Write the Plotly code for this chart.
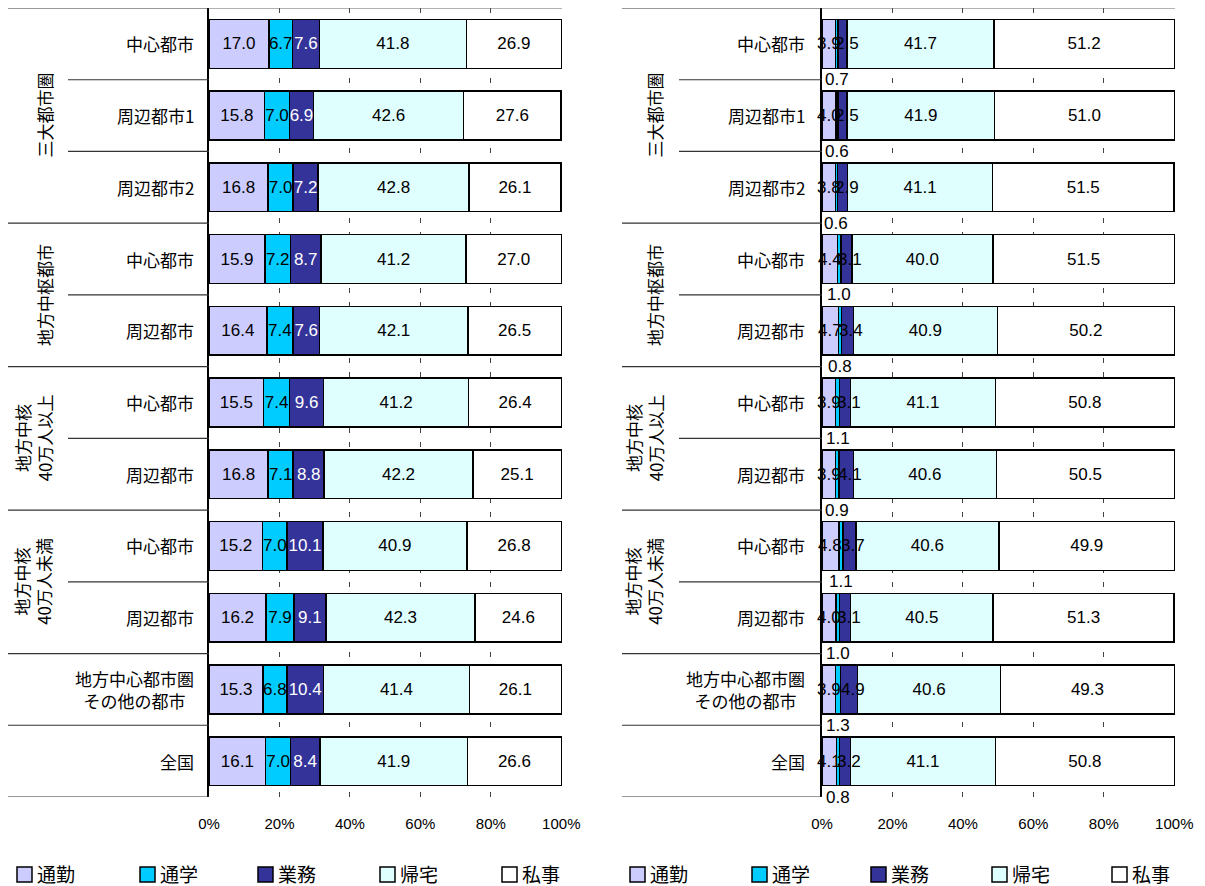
import plotly.graph_objects as go

W, H = 1205, 886

# Category labels (top to bottom)
groups = ["三大都市圏", "地方中枢都市", "地方中核<br>40万人以上", "地方中核<br>40万人未満"]
categories = ["中心都市", "周辺都市1", "周辺都市2", "中心都市", "周辺都市",
              "中心都市", "周辺都市", "中心都市", "周辺都市",
              "地方中心都市圏<br>その他の都市", "全国"]
purposes = ["通勤", "通学", "業務", "帰宅", "私事"]
x_ticks = [0, 20, 40, 60, 80, 100]
x_ticklabels = ["0%", "20%", "40%", "60%", "80%", "100%"]

# Left chart: shares by purpose (%)
a_commute = [17.0, 15.8, 16.8, 15.9, 16.4, 15.5, 16.8, 15.2, 16.2, 15.3, 16.1]
a_school = [6.7, 7.0, 7.0, 7.2, 7.4, 7.4, 7.1, 7.0, 7.9, 6.8, 7.0]
a_business = [7.6, 6.9, 7.2, 8.7, 7.6, 9.6, 8.8, 10.1, 9.1, 10.4, 8.4]
a_home = [41.8, 42.6, 42.8, 41.2, 42.1, 41.2, 42.2, 40.9, 42.3, 41.4, 41.9]
a_private = [26.9, 27.6, 26.1, 27.0, 26.5, 26.4, 25.1, 26.8, 24.6, 26.1, 26.6]

# Right chart: shares by purpose (%)
b_commute = [3.9, 4.0, 3.8, 4.4, 4.7, 3.9, 3.9, 4.8, 4.0, 3.9, 4.1]
b_school = [0.7, 0.6, 0.6, 1.0, 0.8, 1.1, 0.9, 1.1, 1.0, 1.3, 0.8]
b_business = [2.5, 2.5, 2.9, 3.1, 3.4, 3.1, 4.1, 3.7, 3.1, 4.9, 3.2]
b_home = [41.7, 41.9, 41.1, 40.0, 40.9, 41.1, 40.6, 40.6, 40.5, 40.6, 41.1]
b_private = [51.2, 51.0, 51.5, 51.5, 50.2, 50.8, 50.5, 49.9, 51.3, 49.3, 50.8]

colors = ["#CCCCFF", "#00CCFF", "#333399", "#DFFFFF", "#FFFFFF"]
FONT = "Liberation Sans, Noto Sans CJK JP, sans-serif"
JP = "Noto Sans CJK JP, sans-serif"

rows = list(range(len(categories)))

# pixel helpers for layout placement
def px(x):
    return x / W

def py(y):
    return 1 - y / H

# label modes per segment: "in" = bar text, "over" = annotation drawn on top
# of all bars (narrow segments), "below" = annotation under the bar
panels = [
    dict(xa="x", ya="y", xname="xaxis", yname="yaxis",
         series=[a_commute, a_school, a_business, a_home, a_private],
         x0=209, x1=562, left=8, sub_left=68, label_right=196,
         grp_x1=45, grp_x2=33, legend_x=[17, 140, 258, 380, 502],
         text_colors=["black", "black", "white", "black", "black"],
         modes=["in", "in", "in", "in", "in"]),
    dict(xa="x2", ya="y2", xname="xaxis2", yname="yaxis2",
         series=[b_commute, b_school, b_business, b_home, b_private],
         x0=822, x1=1175, left=622, sub_left=679, label_right=807,
         grp_x1=655, grp_x2=644, legend_x=[630, 752, 871, 992, 1112],
         text_colors=["black", "black", "black", "black", "black"],
         modes=["over", "below", "over", "in", "in"]),
]

TOP, BOTTOM = 8, 797

fig = go.Figure()
shapes = []
annotations = []

for p in panels:
    base = [0.0] * len(rows)
    for k, (name, vals, col, tcol, mode) in enumerate(zip(
            purposes, p["series"], colors, p["text_colors"], p["modes"])):
        fig.add_trace(go.Bar(
            y=rows, x=vals, orientation="h", name=name,
            xaxis=p["xa"], yaxis=p["ya"], width=0.68,
            marker=dict(color=col, line=dict(color="black", width=1.5)),
            texttemplate="%{x:.1f}" if mode == "in" else "",
            textposition="inside" if mode == "in" else "none",
            insidetextanchor="middle", textangle=0, constraintext="none",
            cliponaxis=False,
            textfont=dict(family=FONT, size=17, color=tcol),
            showlegend=False,
        ))
        if mode != "in":
            for i in rows:
                centre = base[i] + vals[i] / 2
                annotations.append(dict(
                    x=centre, y=i + (0.5 if mode == "below" else 0),
                    xref=p["xa"], yref=p["ya"], text=f"{vals[i]:.1f}",
                    showarrow=False, xanchor="center", yanchor="middle",
                    xshift=4 if (mode == "over" and k > 0) else 0,
                    font=dict(family=FONT, size=17, color=tcol)))
        base = [b + v for b, v in zip(base, vals)]

    fig.layout[p["xname"]] = dict(
        domain=[px(p["x0"]), px(p["x1"])], range=[0, 100.2], anchor=p["ya"],
        tickvals=x_ticks, ticktext=x_ticklabels, ticks="",
        ticklabelstandoff=16, automargin=False,
        tickfont=dict(family=FONT, size=15, color="black"),
        showgrid=True, gridcolor="#444444", gridwidth=1, griddash="5px,9px",
        zeroline=False, showline=False, fixedrange=True)
    fig.layout[p["yname"]] = dict(
        domain=[py(BOTTOM), py(TOP)], range=[10.5, -0.5], anchor=p["xa"],
        showticklabels=False, ticks="", showgrid=False, zeroline=False,
        automargin=False,
        showline=True, linecolor="black", linewidth=1.5, fixedrange=True)

    # separators of the two-level category axis
    for b in [-0.5, 2.5, 4.5, 6.5, 8.5, 9.5, 10.5]:
        shapes.append(dict(type="line", xref="paper", yref=p["ya"],
                           x0=px(p["left"]), x1=px(p["x0"]), y0=b, y1=b,
                           line=dict(color="#333333", width=1.2)))
    for b in [0.5, 1.5, 3.5, 5.5, 7.5]:
        shapes.append(dict(type="line", xref="paper", yref=p["ya"],
                           x0=px(p["sub_left"]), x1=px(p["x0"]), y0=b, y1=b,
                           line=dict(color="#333333", width=1.2)))
    # top border of the plot area
    shapes.append(dict(type="line", xref="paper", yref=p["ya"],
                       x0=px(p["x0"]), x1=px(p["x1"]), y0=-0.5, y1=-0.5,
                       line=dict(color="#666666", width=1.2)))

    for i, cat in enumerate(categories):
        annotations.append(dict(
            x=px(p["label_right"]), y=i, xref="paper", yref=p["ya"],
            text=cat, showarrow=False, xanchor="right", yanchor="middle",
            align="center", font=dict(family=JP, size=17, color="black")))

    for g, centre in zip(groups, [1, 3.5, 5.5, 7.5]):
        two_line = "<br>" in g
        annotations.append(dict(
            x=px(p["grp_x2"] if two_line else p["grp_x1"]), y=centre,
            xref="paper", yref=p["ya"], text=g, showarrow=False,
            textangle=-90, xanchor="center", yanchor="middle",
            font=dict(family=JP, size=17, color="black")))

    # legend
    for name, col, lx in zip(purposes, colors, p["legend_x"]):
        shapes.append(dict(type="rect", xref="paper", yref="paper",
                           x0=px(lx), x1=px(lx + 15), y0=py(882), y1=py(867),
                           fillcolor=col, line=dict(color="black", width=1.5)))
        annotations.append(dict(
            x=px(lx + 18), y=py(873), xref="paper", yref="paper",
            text=name, showarrow=False, xanchor="left", yanchor="middle",
            font=dict(family=JP, size=19, color="black")))

fig.update_layout(
    width=W, height=H, barmode="stack", bargap=0.32,
    margin=dict(l=0, r=0, t=0, b=0, autoexpand=False),
    paper_bgcolor="white", plot_bgcolor="white",
    shapes=shapes, annotations=annotations,
    uniformtext=dict(mode="show", minsize=17),
    showlegend=False,
)

fig.write_html("out.html")
